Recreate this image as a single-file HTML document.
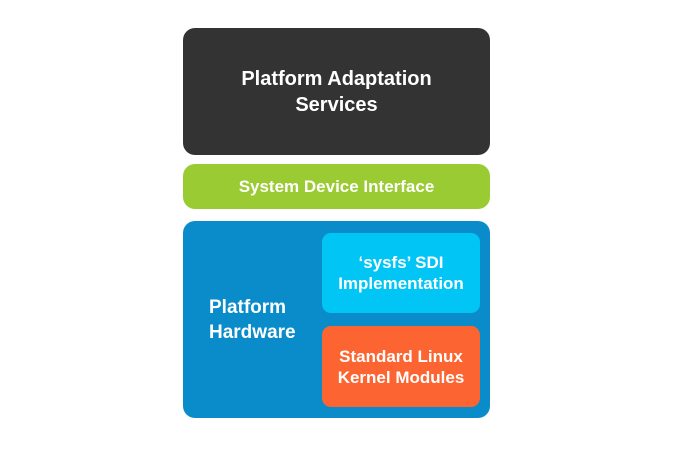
<!DOCTYPE html>
<html><head><style>
body{margin:0;width:675px;height:452px;background:#fff;position:relative;font-family:"Liberation Sans",sans-serif;color:#fff;overflow:hidden}
.b{position:absolute;box-sizing:border-box;display:flex;align-items:center;justify-content:center;text-align:center;font-weight:bold}
</style></head><body>
<div class="b" style="left:183px;top:28px;width:307px;height:127px;background:#333333;border-radius:12px;font-size:20px;line-height:26px">Platform Adaptation<br>Services</div>
<div class="b" style="left:183px;top:164px;width:307px;height:45px;background:#9bcb33;border-radius:12px;font-size:17px">System Device Interface</div>
<div class="b" style="left:183px;top:221px;width:307px;height:197px;background:#0a8ccb;border-radius:12px"></div>
<div class="b" style="left:209px;top:295px;width:110px;justify-content:flex-start;text-align:left;font-size:19px;line-height:25px">Platform<br>Hardware</div>
<div class="b" style="left:322px;top:233px;width:158px;height:80px;background:#00c5f5;border-radius:9px;font-size:17px;line-height:21px">‘sysfs’ SDI<br>Implementation</div>
<div class="b" style="left:322px;top:326px;width:158px;height:81px;background:#fc6531;border-radius:9px;font-size:17px;line-height:21px">Standard Linux<br>Kernel Modules</div>
</body></html>
